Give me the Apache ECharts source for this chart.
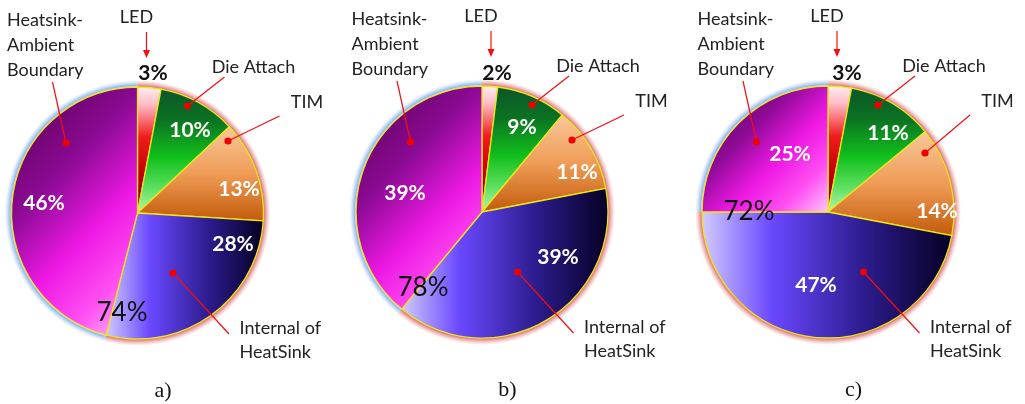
<!DOCTYPE html>
<html><head><meta charset="utf-8">
<script src="https://cdn.jsdelivr.net/npm/echarts@6/dist/echarts.min.js"></script>
<style>html,body{margin:0;padding:0;background:#fff}#c{width:1025px;height:404px}</style>
</head><body><div id="c"></div>
<script>
// ---- data ----
const categories = ['LED', 'Die Attach', 'TIM', 'Internal of\nHeatSink', 'Heatsink-\nAmbient\nBoundary'];
const panelLabels = ['a)', 'b)', 'c)'];
const sharesA = [3, 10, 13, 28, 46];
const sharesB = [2, 9, 11, 39, 39];
const sharesC = [3, 11, 14, 47, 25];
const heatsinkTotals = [74, 78, 72];

// ---- layout / style ----
const panels = [sharesA, sharesB, sharesC];
const centers = [[137.5, 213], [482, 212], [828, 212]];
const R = 126;
const GLOW = 7;
const FONT = 'Lato';
const labelOffsets = [
  [[15.5, -140], [52.5, -83], [101.5, -24], [95.5, 31], [-93.5, -10]],
  [[15, -139], [40, -85], [95, -40], [76, 45], [-77, -19]],
  [[19, -139], [60, -79], [109, -1], [-12, 73], [-38, -58]]
];
const totalOffsets = [[-15.5, 100], [-59, 76], [-79, 0]];
const timDot = [[90.5, -72], [90, -72], [97, -59]];

function lin(x, y, x2, y2, stops) {
  return { type: 'linear', x: x, y: y, x2: x2, y2: y2,
    colorStops: stops.map(s => ({ offset: s[0], color: s[1] })) };
}
// bounding box size (w,h) of a sector drawn clockwise from the top
function sectorBox(a0, a1) {
  const pts = [[0, 0]];
  const pt = a => [Math.sin(a), -Math.cos(a)];
  pts.push(pt(a0), pt(a1));
  for (let k = 0; k <= 4; k++) { const a = k * Math.PI / 2; if (a > a0 && a < a1) pts.push(pt(a)); }
  const xs = pts.map(q => q[0]), ys = pts.map(q => q[1]);
  return [Math.max(...xs) - Math.min(...xs), Math.max(...ys) - Math.min(...ys)];
}
const heatStops = [[0, '#52004c'], [0.36, '#8c0a94'], [0.6, '#ee18e4'], [0.8, '#ff4ff2'], [1, '#ffcafb']];
function fills(vals) {
  const total = vals.reduce((s, v) => s + v, 0);
  const start = vals.slice(0, 4).reduce((s, v) => s + v, 0) / total * 2 * Math.PI;
  const [w, h] = sectorBox(start, 2 * Math.PI);
  const dx = (w + h) / (2 * w), dy = (w + h) / (2 * h);
  return [
    lin(0, 0, 0, 1, [[0, '#fff0f3'], [0.14, '#ffbcc6'], [0.4, '#f01c1c'], [0.7, '#bf0000'], [1, '#5e0000']]),
    lin(0, 0, 0, 1, [[0, '#0b5528'], [0.25, '#0b7222'], [0.55, '#11c01b'], [0.8, '#5fe060'], [1, '#b4f8b4']]),
    lin(0, 0, 0, 1, [[0, '#f9c89a'], [0.5, '#ef9c56'], [1, '#c25a0a']]),
    lin(0, 0, 1, 0, [[0, '#d2ccff'], [0.28, '#6a48ff'], [0.65, '#2c1c8e'], [1, '#050022']]),
    lin(0, 0, dx, dy, heatStops)
  ];
}
const redGlow = [[0, 'rgba(200,50,50,0.75)'], [0.45, 'rgba(210,80,80,0.4)'], [1, 'rgba(230,120,120,0)']];
const blueGlow = [[0, 'rgba(225,235,250,1)'], [0.2, 'rgba(140,180,240,0.95)'], [0.55, 'rgba(150,190,240,0.5)'], [1, 'rgba(180,210,250,0)']];
const glowStops = [redGlow, redGlow, redGlow, redGlow, blueGlow];
function glowFill(cx, cy, stops) {
  const f = R / (R + GLOW);
  return { type: 'radial', x: cx, y: cy, r: R + GLOW, global: true,
    colorStops: [{ offset: 0, color: stops[0][1] }].concat(
      stops.map(s => ({ offset: f + (1 - f) * s[0], color: s[1] }))) };
}

const series = [];
const graphics = [];
panels.forEach((vals, p) => {
  const [cx, cy] = centers[p];
  const sliceFills = fills(vals);
  // soft glow underlay
  series.push({
    type: 'pie', silent: true, center: [cx, cy], radius: R + GLOW, startAngle: 90, z: 1,
    label: { show: false }, labelLine: { show: false }, animation: false,
    data: vals.map((v, i) => ({ value: v, name: categories[i],
      itemStyle: { color: glowFill(cx, cy, glowStops[i]) } }))
  });
  // main pie
  series.push({
    type: 'pie', silent: true, center: [cx, cy], radius: R, startAngle: 90, z: 2,
    avoidLabelOverlap: false, animation: false,
    labelLine: { show: false },
    label: { show: true, position: 'inside', formatter: '{c}%', fontFamily: FONT,
      fontWeight: 'bold', fontSize: 21, color: '#ffffff' },
    labelLayout: function (params) {
      const o = labelOffsets[p][params.dataIndex];
      return { x: cx + o[0], y: cy + o[1], align: 'center', verticalAlign: 'middle' };
    },
    itemStyle: { borderColor: '#ede51c', borderWidth: 1.3 },
    data: vals.map((v, i) => ({ value: v, name: categories[i],
      itemStyle: { color: sliceFills[i] },
      label: i === 0 ? { color: '#111111' } : {} }))
  });

  const txt = (x, y, text, extra) => graphics.push(Object.assign({
    type: 'text', x: cx + x, y: cy + y, silent: true, z: 100,
    style: Object.assign({ text: text, fill: '#222222', fontFamily: FONT, fontSize: 18 }, extra || {})
  }));
  const line = (x1, y1, x2, y2) => graphics.push({ type: 'line', silent: true, z: 100,
    shape: { x1: cx + x1, y1: cy + y1, x2: cx + x2, y2: cy + y2 },
    style: { stroke: '#f01010', lineWidth: 1.2 } });
  const dot = (x, y) => graphics.push({ type: 'circle', silent: true, z: 101,
    shape: { cx: cx + x, cy: cy + y, r: 3.6 }, style: { fill: '#ee0000' } });

  // LED label + arrow
  txt(-1, -196, categories[0], { align: 'center', verticalAlign: 'middle' });
  line(9, -181, 9, -160);
  graphics.push({ type: 'polygon', silent: true, z: 100,
    shape: { points: [[cx + 5.5, cy - 163], [cx + 12.5, cy - 163], [cx + 9, cy - 155]] },
    style: { fill: '#f01010' } });
  // Die Attach
  txt(116, -146, categories[1], { align: 'center', verticalAlign: 'middle' });
  line(87, -136, 50, -107); dot(50, -107);
  // TIM
  txt(169.5, -111, categories[2], { align: 'center', verticalAlign: 'middle' });
  line(142, -97, timDot[p][0], timDot[p][1]); dot(timDot[p][0], timDot[p][1]);
  // Heatsink-Ambient Boundary
  txt(-130.5, -168, categories[4], { align: 'left', verticalAlign: 'middle', lineHeight: 25 });
  line(-85, -131, -71.5, -70); dot(-71.5, -70);
  // Internal of HeatSink
  txt(102, 127, categories[3], { align: 'left', verticalAlign: 'middle', lineHeight: 24 });
  line(91.5, 121, 35.5, 60); dot(35.5, 60);
  // combined share
  txt(totalOffsets[p][0], totalOffsets[p][1], heatsinkTotals[p] + '%',
    { align: 'center', verticalAlign: 'middle', fontSize: 26, fill: '#111111' });
  // caption
  txt(25.5, 178, panelLabels[p], { align: 'center', verticalAlign: 'middle',
    fontFamily: 'Liberation Serif', fontSize: 22, fill: '#111111' });
});

const chart = echarts.init(document.getElementById('c'), null, { renderer: 'canvas' });
chart.setOption({ animation: false, backgroundColor: '#ffffff', series: series, graphic: graphics });
</script></body></html>
